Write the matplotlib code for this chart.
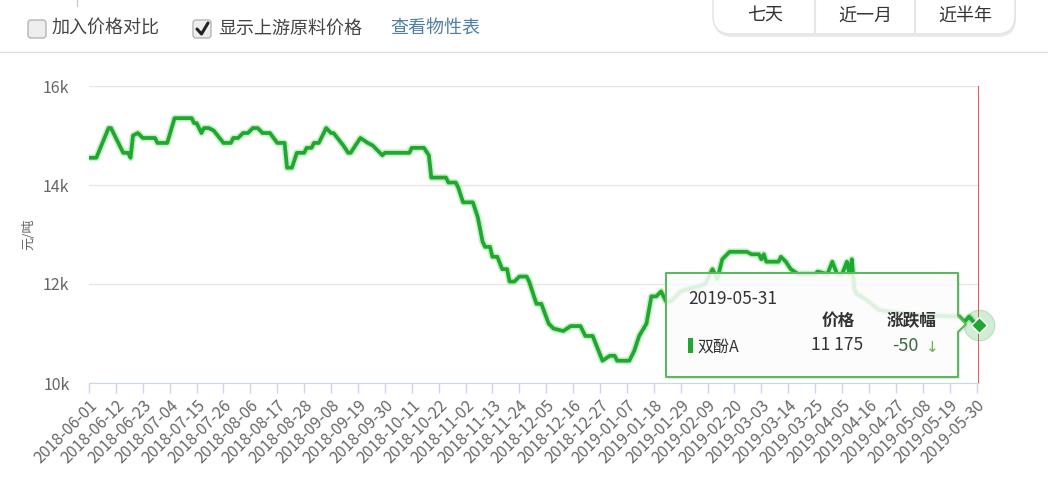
import matplotlib
matplotlib.use("Agg")
import matplotlib.pyplot as plt
import matplotlib.patches as patches
import pandas as pd

plt.rcParams['font.family'] = ['Noto Sans CJK SC', 'DejaVu Sans']

# price breakpoints (元/吨)
dates = [
    "2018-06-01", "2018-06-04", "2018-06-09", "2018-06-10", "2018-06-15", "2018-06-17",
    "2018-06-18", "2018-06-19", "2018-06-21", "2018-06-23", "2018-06-28", "2018-06-29",
    "2018-07-03", "2018-07-06", "2018-07-13", "2018-07-14", "2018-07-15", "2018-07-17",
    "2018-07-18", "2018-07-20", "2018-07-22", "2018-07-26", "2018-07-29", "2018-07-30",
    "2018-08-01", "2018-08-03", "2018-08-05", "2018-08-07", "2018-08-09", "2018-08-11",
    "2018-08-14", "2018-08-17", "2018-08-20", "2018-08-21", "2018-08-23", "2018-08-25",
    "2018-08-28", "2018-08-29", "2018-08-31", "2018-09-01", "2018-09-03", "2018-09-06",
    "2018-09-08", "2018-09-09", "2018-09-13", "2018-09-15", "2018-09-16", "2018-09-20",
    "2018-09-23", "2018-09-25", "2018-09-29", "2018-09-30", "2018-10-10", "2018-10-11",
    "2018-10-16", "2018-10-18", "2018-10-19", "2018-10-25", "2018-10-26", "2018-10-29",
    "2018-10-30", "2018-11-01", "2018-11-05", "2018-11-07", "2018-11-09", "2018-11-10",
    "2018-11-12", "2018-11-13", "2018-11-15", "2018-11-17", "2018-11-19", "2018-11-20",
    "2018-11-22", "2018-11-24", "2018-11-27", "2018-11-28", "2018-12-01", "2018-12-03",
    "2018-12-06", "2018-12-08", "2018-12-12", "2018-12-15", "2018-12-19", "2018-12-21",
    "2018-12-24", "2018-12-28", "2018-12-31", "2019-01-02", "2019-01-03", "2019-01-08",
    "2019-01-10", "2019-01-12", "2019-01-15", "2019-01-17", "2019-01-19", "2019-01-21",
    "2019-01-23", "2019-01-25", "2019-01-29", "2019-02-01", "2019-02-05", "2019-02-08",
    "2019-02-11", "2019-02-13", "2019-02-15", "2019-02-18", "2019-02-25", "2019-02-27",
    "2019-03-02", "2019-03-03", "2019-03-04", "2019-03-05", "2019-03-10", "2019-03-11",
    "2019-03-13", "2019-03-15", "2019-03-18", "2019-03-25", "2019-03-26", "2019-03-30",
    "2019-04-01", "2019-04-03", "2019-04-05", "2019-04-07", "2019-04-08", "2019-04-09",
    "2019-04-10", "2019-04-11", "2019-04-15", "2019-04-20", "2019-04-24", "2019-05-04",
    "2019-05-23", "2019-05-25", "2019-05-27", "2019-05-29", "2019-05-31",
]
prices = [
    14550, 14550, 15150, 15150, 14650, 14650,
    14550, 15000, 15050, 14950, 14950, 14850,
    14850, 15350, 15350, 15250, 15250, 15050,
    15150, 15150, 15100, 14850, 14850, 14950,
    14950, 15050, 15050, 15150, 15150, 15050,
    15050, 14850, 14850, 14350, 14350, 14650,
    14650, 14750, 14750, 14850, 14850, 15150,
    15050, 15050, 14800, 14650, 14650, 14950,
    14850, 14800, 14600, 14650, 14650, 14750,
    14750, 14600, 14150, 14150, 14050, 14050,
    13950, 13650, 13650, 13350, 12850, 12750,
    12750, 12550, 12550, 12300, 12300, 12050,
    12050, 12150, 12150, 12050, 11600, 11600,
    11200, 11100, 11050, 11150, 11150, 10950,
    10950, 10450, 10550, 10550, 10450, 10450,
    10650, 10950, 11200, 11750, 11750, 11850,
    11650, 11650, 11850, 11900, 11950, 12000,
    12300, 12100, 12500, 12650, 12650, 12600,
    12600, 12500, 12600, 12450, 12450, 12550,
    12450, 12300, 12200, 12200, 12250, 12200,
    12450, 12200, 12200, 12450, 12200, 12500,
    11900, 11800, 11680, 11480, 11440, 11380,
    11340, 11240, 11340, 11225, 11175,
]

tick_labels = [
    "2018-06-01", "2018-06-12", "2018-06-23", "2018-07-04", "2018-07-15", "2018-07-26",
    "2018-08-06", "2018-08-17", "2018-08-28", "2018-09-08", "2018-09-19", "2018-09-30",
    "2018-10-11", "2018-10-22", "2018-11-02", "2018-11-13", "2018-11-24", "2018-12-05",
    "2018-12-16", "2018-12-27", "2019-01-07", "2019-01-18", "2019-01-29", "2019-02-09",
    "2019-02-20", "2019-03-03", "2019-03-14", "2019-03-25", "2019-04-05", "2019-04-16",
    "2019-04-27", "2019-05-08", "2019-05-19", "2019-05-30",
]
y_ticks = [10000, 12000, 14000, 16000]
y_tick_labels = ["10k", "12k", "14k", "16k"]

x = pd.to_datetime(dates)
xt = pd.to_datetime(tick_labels)

W, H = 1048, 479
fig = plt.figure(figsize=(W / 100, H / 100), dpi=100)
fig.patch.set_facecolor("white")

ax = fig.add_axes([89 / W, 1 - 383 / H, (979 - 89) / W, (383 - 86) / H])
ax.plot(x, prices, color="#9be29b", lw=5, alpha=0.55, solid_joinstyle="round")
ax.plot(x, prices, color="#1ea82f", lw=2.7, solid_joinstyle="round")
ax.set_xlim(x[0], x[-1])
ax.set_ylim(10000, 16000)
ax.set_yticks(y_ticks)
ax.set_yticklabels(y_tick_labels)
ax.set_xticks(xt)
ax.set_xticklabels(tick_labels, rotation=45, ha="right", rotation_mode="anchor")
ax.grid(axis="y", color="#e6e6e6", lw=1)
ax.set_axisbelow(True)
for s in ["top", "right", "left"]:
    ax.spines[s].set_visible(False)
ax.spines["bottom"].set_color("#ccd6eb")
ax.tick_params(axis="y", length=0, pad=14, labelsize=11.5, labelcolor="#666666")
ax.tick_params(axis="x", length=7, width=1, color="#ccd6eb", pad=3,
               labelsize=11.5, labelcolor="#666666")
ax.set_ylabel("元/吨", fontsize=9.5, color="#666666")
ax.yaxis.set_label_coords(-54 / 890, 0.5)

# current point marker and red line
ax.axvline(x[-1], color="#e8474c", lw=1.3, zorder=4)
ax.plot([x[-1]], [prices[-1]], "o", ms=22, color="#1ea82f", alpha=0.2, zorder=5, clip_on=False)
ax.plot([x[-1]], [prices[-1]], "D", ms=8, color="#1ea82f", mec="white", mew=1, zorder=6, clip_on=False)

# overlay for UI elements in pixel coordinates
ov = fig.add_axes([0, 0, 1, 1])
ov.set_xlim(0, W)
ov.set_ylim(H, 0)
ov.axis("off")
ov.patch.set_alpha(0)

# header
ov.plot([0, W], [52, 52], color="#dddddd", lw=1)
ov.plot([77, 77], [0, 6], color="#cccccc", lw=1)
for bx in [28, 193]:
    ov.add_patch(patches.FancyBboxPatch((bx, 20), 18, 18,
                 boxstyle="round,pad=0,rounding_size=3",
                 fc="#eeeeee", ec="#b5b5b5", lw=1))
ov.plot([197, 201.5, 208], [29, 34, 23], color="#222222", lw=2.2, solid_capstyle="round")
ov.text(52, 29, "加入价格对比", fontsize=13, color="#444444", va="center")
ov.text(218, 29, "显示上游原料价格", fontsize=13, color="#444444", va="center")
ov.text(390, 29, "查看物性表", fontsize=13, color="#4f7fa6", va="center")

# range buttons
ov.add_patch(patches.FancyBboxPatch((714, -20), 302, 57,
             boxstyle="round,pad=0,rounding_size=18",
             fc="#d8d8d8", ec="none", alpha=0.5))
ov.add_patch(patches.FancyBboxPatch((713, -22), 302, 56,
             boxstyle="round,pad=0,rounding_size=18",
             fc="white", ec="#e2e2e2", lw=1))
for sx in [815, 915]:
    ov.plot([sx, sx], [0, 34], color="#e6e6e6", lw=1.5)
for tx, t in zip([765, 865, 965], ["七天", "近一月", "近半年"]):
    ov.text(tx, 16, t, fontsize=13, color="#333333", ha="center", va="center")

# tooltip
tip = [(666, 273), (958, 273), (958, 316), (966, 324), (958, 332), (958, 377), (666, 377)]
ov.add_patch(patches.Polygon([(px + 2, py + 2) for px, py in tip], closed=True,
             fc="#000000", ec="none", alpha=0.08))
ov.add_patch(patches.Polygon(tip, closed=True, fc="white", alpha=0.86,
             ec="none"))
ov.add_patch(patches.Polygon(tip, closed=True, fill=False, ec="#5cb85c",
             lw=1.5, joinstyle="round"))
ov.text(688, 299, "2019-05-31", fontsize=12.5, color="#333333", va="center")
ov.text(838, 321, "价格", fontsize=12, color="#333333", ha="center", va="center",
        fontweight="bold")
ov.text(912, 321, "涨跌幅", fontsize=12, color="#333333", ha="center", va="center",
        fontweight="bold")
ov.add_patch(patches.Rectangle((688, 338), 5, 15, fc="#1ea82f", ec="none"))
ov.text(697, 347, "双酚A", fontsize=11.5, color="#333333", va="center")
ov.text(863, 345, "11 175", fontsize=12.5, color="#333333", ha="right", va="center")
ov.text(892, 346, "-50", fontsize=13, color="#3d6b3d", va="center")
ov.text(932, 347, "↓", fontsize=11, color="#6ab04c", ha="center", va="center",
        family=["DejaVu Sans"])

fig.savefig("out.png", dpi=100)
